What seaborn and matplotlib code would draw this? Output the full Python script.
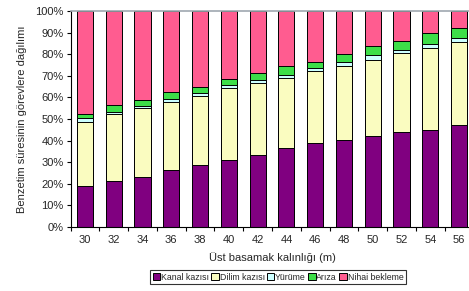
import numpy as np
import pandas as pd
import seaborn as sns
import matplotlib.pyplot as plt
from matplotlib.patches import Patch

thickness = ['30', '32', '34', '36', '38', '40', '42', '44', '46', '48', '50', '52', '54', '56']
kanal = [19.1, 21.4, 23.3, 26.5, 28.5, 31.2, 33.5, 36.4, 38.9, 40.5, 41.9, 44.2, 44.8, 47.0]
dilim = [29.6, 30.8, 31.7, 31.3, 32.1, 33.3, 33.3, 32.7, 33.2, 34.2, 35.6, 36.3, 38.3, 38.6]
yurume = [1.6, 1.0, 1.0, 1.6, 1.4, 1.1, 1.1, 1.4, 1.4, 1.6, 1.9, 1.4, 1.7, 2.0]
ariza = [1.9, 3.4, 2.9, 3.1, 3.0, 3.1, 3.6, 3.9, 3.1, 3.7, 4.2, 4.1, 5.0, 4.5]

series = ['Kanal kazısı', 'Dilim kazısı', 'Yürüme', 'Arıza', 'Nihai bekleme']
colors = ['#800080', '#FAFCC0', '#CCFFFF', '#3DDE48', '#FF5C90']

df = pd.DataFrame({'thick': thickness, 'Kanal kazısı': kanal, 'Dilim kazısı': dilim,
                   'Yürüme': yurume, 'Arıza': ariza})
df['Nihai bekleme'] = 100 - df[series[:4]].sum(axis=1)

sns.set_style('white')
plt.rcParams['font.family'] = ['Liberation Sans', 'DejaVu Sans']

fig = plt.figure(figsize=(4.69, 2.91), dpi=100)
ax = fig.add_axes([70.6 / 469, 1 - 227 / 291, 402.8 / 469, 216 / 291])

# stacked bars: draw cumulative totals from the top series down
cum = df[series].cumsum(axis=1)
for name, col in reversed(list(zip(series, colors))):
    sns.barplot(x=df['thick'], y=cum[name], color=col, width=0.56,
                edgecolor='black', linewidth=0.7, ax=ax, saturation=1)

ax.set_ylim(0, 100)
ax.set_xlim(-0.5, 13.5)
ax.set_yticks(np.arange(0, 101, 10))
ax.set_yticklabels([f'{v}%' for v in range(0, 101, 10)], fontsize=8)
ax.set_xticks(np.arange(-0.5, 14, 1))
ax.set_xticklabels([])
ax.set_xticks(np.arange(14), minor=True)
ax.set_xticklabels(thickness, minor=True, fontsize=8)
ax.tick_params(axis='x', which='major', length=3, width=0.8, color='black', direction='out', bottom=True)
ax.tick_params(axis='x', which='minor', length=0, pad=6)
ax.tick_params(axis='y', length=3, width=0.8, color='black', direction='out', left=True, pad=2)

for s in ['left', 'bottom']:
    ax.spines[s].set_color('black')
    ax.spines[s].set_linewidth(0.8)
ax.spines['right'].set_visible(False)
ax.spines['top'].set_color('#a0a8b0')
ax.spines['top'].set_linewidth(1.2)

ax.set_xlabel('Üst basamak kalınlığı (m)', fontsize=8, labelpad=5)
ax.set_ylabel('Benzetim süresinin görevlere dağılımı', fontsize=8, labelpad=6)

handles = [Patch(facecolor=c, edgecolor='black', linewidth=0.7) for c in colors]
leg = fig.legend(handles, series, loc='center', bbox_to_anchor=(278 / 469, 1 - 277 / 291),
                 ncol=5, fontsize=6.3, frameon=True, fancybox=False, handlelength=0.85,
                 handleheight=0.85, handletextpad=0.1, columnspacing=0.25,
                 borderpad=0.3, borderaxespad=0)
leg.get_frame().set_edgecolor('black')
leg.get_frame().set_linewidth(0.8)

fig.savefig('out.png', dpi=100)
